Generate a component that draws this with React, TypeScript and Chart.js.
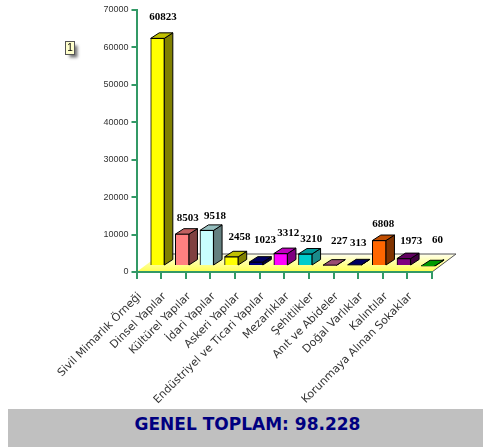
import React, { useEffect, useRef } from "react";
import { Chart, registerables } from "chart.js";

Chart.register(...registerables);

const categories = [
  "Sivil Mimarlık Örneği", "Dinsel Yapılar", "Kültürel Yapılar", "İdari Yapılar",
  "Askeri Yapılar", "Endüstriyel ve Ticari Yapılar", "Mezarlıklar", "Şehitlikler",
  "Anıt ve Abideler", "Doğal Varlıklar", "Kalıntılar", "Korunmaya Alınan Sokaklar",
];
const labelValues = [60823, 8503, 9518, 2458, 1023, 3312, 3210, 227, 313, 6808, 1973, 60];
const barValues = [60823, 8503, 9518, 2458, 1023, 3312, 3210, 227, 313, 6808, 1973, 60];
const frontColors = ["#ffff00", "#ff8080", "#c8ffff", "#ffff00", "#000080", "#ff00ff", "#00cccc", "#cc6699", "#000080", "#ff6600", "#800080", "#00cc00"];
const topColors = ["#c0c000", "#c06060", "#96bfbf", "#c0c000", "#000060", "#c000c0", "#009999", "#994d73", "#000060", "#c04d00", "#600060", "#009900"];
const sideColors = ["#808000", "#804040", "#648080", "#808000", "#000040", "#800080", "#1a8a8a", "#663350", "#000040", "#803300", "#400040", "#006600"];
const labelNudgeX = [5.5, 5.5, 8.3, 8, 9, 7.5, 6, 9.3, 3.7, 4, 7.5, 9];
const labelNudgeY = [-1.4, 3.8, 5.6, 0, -2, -0.6, 5, -4, -2, 3.5, 2.4, -5.8];

const DX = 8.5, DY = 5.5, SHIFT_X = 8.7, SHIFT_Y = -6;

const bars3d = {
  id: "bars3d",
  beforeDraw(chart: any) {
    const { ctx, chartArea: a } = chart;
    const g = ctx.createLinearGradient(0, a.bottom, 0, a.bottom - 18);
    g.addColorStop(0, "#ffff4d");
    g.addColorStop(1, "#ffffee");
    ctx.save();
    ctx.fillStyle = g;
    ctx.strokeStyle = "#555";
    ctx.lineWidth = 1;
    ctx.beginPath();
    ctx.moveTo(a.left, a.bottom);
    ctx.lineTo(a.right, a.bottom);
    ctx.lineTo(a.right + 24, a.bottom - 18);
    ctx.lineTo(a.left + 24, a.bottom - 18);
    ctx.closePath();
    ctx.fill();
    ctx.beginPath();
    ctx.moveTo(a.left + 24, a.bottom - 18);
    ctx.lineTo(a.right + 24, a.bottom - 18);
    ctx.lineTo(a.right, a.bottom);
    ctx.stroke();
    ctx.restore();
  },
  beforeDatasetDraw(chart: any) {
    const { ctx } = chart;
    ctx.save();
    ctx.translate(SHIFT_X, SHIFT_Y);
    ctx.lineWidth = 1;
    ctx.strokeStyle = "#000";
    chart.getDatasetMeta(0).data.forEach((b: any, i: number) => {
      const l = b.x - b.width / 2, r = b.x + b.width / 2, y = b.y, base = b.base;
      ctx.fillStyle = sideColors[i];
      ctx.beginPath();
      ctx.moveTo(r, y);
      ctx.lineTo(r + DX, y - DY);
      ctx.lineTo(r + DX, base - DY);
      ctx.lineTo(r, base);
      ctx.closePath();
      ctx.fill();
      ctx.stroke();
      ctx.fillStyle = topColors[i];
      ctx.beginPath();
      ctx.moveTo(l, y);
      ctx.lineTo(l + DX, y - DY);
      ctx.lineTo(r + DX, y - DY);
      ctx.lineTo(r, y);
      ctx.closePath();
      ctx.fill();
      ctx.stroke();
    });
  },
  afterDatasetDraw(chart: any) {
    chart.ctx.restore();
  },
  afterDraw(chart: any) {
    const { ctx } = chart;
    ctx.save();
    ctx.font = "bold 11px 'Liberation Serif'";
    ctx.fillStyle = "#000";
    ctx.textAlign = "center";
    ctx.textBaseline = "middle";
    chart.getDatasetMeta(0).data.forEach((b: any, i: number) => {
      ctx.fillText(String(labelValues[i]), b.x + SHIFT_X + labelNudgeX[i], b.y + SHIFT_Y - 20 + labelNudgeY[i]);
    });
    // legend chip
    ctx.shadowColor = "rgba(0,0,0,0.55)";
    ctx.shadowBlur = 3;
    ctx.shadowOffsetX = 3;
    ctx.shadowOffsetY = 3;
    ctx.fillStyle = "#ffffcc";
    ctx.fillRect(57.5, 41.5, 9, 13);
    ctx.shadowColor = "transparent";
    ctx.strokeStyle = "#555";
    ctx.strokeRect(57.5, 41.5, 9, 13);
    ctx.fillStyle = "#000";
    ctx.font = "10px 'Liberation Sans'";
    ctx.fillText("1", 62, 48.5);
    ctx.restore();
  },
};

export default function App() {
  const ref = useRef<HTMLCanvasElement | null>(null);
  useEffect(() => {
    const chart = new Chart(ref.current as HTMLCanvasElement, {
      type: "bar",
      data: {
        labels: categories,
        datasets: [{
          data: barValues,
          backgroundColor: frontColors,
          borderColor: "#000",
          borderWidth: 1,
          barThickness: 13.6,
          clip: false as any,
        }],
      },
      options: {
        animation: false,
        responsive: false,
        layout: { padding: { top: 10, right: 51, left: 0, bottom: 0 } },
        plugins: { legend: { display: false }, tooltip: { enabled: false } },
        scales: {
          x: {
            afterFit: (s: any) => { s.height = 137; s.paddingRight = 0; s.paddingLeft = 0; },
            border: { color: "#339966", width: 2 },
            grid: { drawOnChartArea: false, color: "#339966", lineWidth: 2, tickLength: 7 },
            ticks: {
              autoSkip: false, minRotation: 45, maxRotation: 45, color: "#333",
              padding: 11, labelOffset: -9,
              font: { family: "'DejaVu Sans'", size: 11 },
            },
          },
          y: {
            min: 0, max: 70000,
            afterFit: (s: any) => { s.width = 128.5; s.paddingTop = 0; s.paddingBottom = 0; },
            border: { color: "#339966", width: 2 },
            grid: { drawOnChartArea: false, color: "#339966", lineWidth: 2, tickLength: 5 },
            ticks: {
              stepSize: 10000, color: "#333", padding: 3,
              callback: (v: any) => String(v),
              font: { family: "'Liberation Sans'", size: 9 },
            },
          },
        },
      },
      plugins: [bars3d],
    } as any);
    return () => chart.destroy();
  }, []);
  return (
    <div>
      <canvas ref={ref} width={475} height={409} style={{ display: "block", position: "absolute", left: 8, top: 0 }} />
      <div style={{
        position: "absolute", left: 8, top: 409, width: 475, height: 38, lineHeight: "31px",
        background: "#c0c0c0", color: "#000080", textAlign: "center",
        fontFamily: "'DejaVu Sans'", fontWeight: "bold", fontSize: 17, overflow: "hidden",
      }}><span style={{ position: "relative", left: 2 }}>GENEL TOPLAM: 98.228</span></div>
    </div>
  );
}
